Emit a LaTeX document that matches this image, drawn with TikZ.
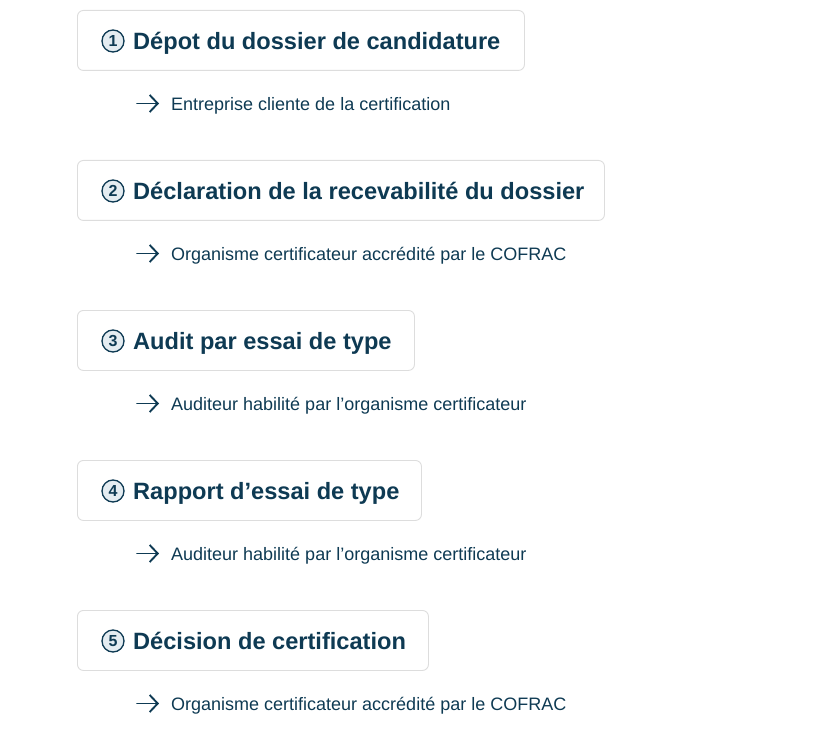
\documentclass[tikz,border=0pt]{standalone}
\usepackage{fontspec}
\setmainfont{Liberation Sans}
\usetikzlibrary{arrows.meta}
\definecolor{navy}{HTML}{0E3A53}
\definecolor{circfill}{HTML}{E4ECF1}
\definecolor{boxline}{HTML}{DDDDDD}
\tikzset{
  stepbox/.style={draw=boxline, line width=0.9pt, rounded corners=6pt, fill=white,
    anchor=north west, minimum height=60pt, inner sep=0pt},
  numcirc/.style={circle, draw=navy, line width=1.3pt, fill=circfill, minimum size=22pt,
    inner sep=0pt, text=navy, font=\fontsize{16}{16}\selectfont\bfseries},
  titletext/.style={anchor=base west, inner sep=0pt, text=navy,
    font=\fontsize{23.6}{25}\selectfont\bfseries},
  subtext/.style={anchor=base west, inner sep=0pt, text=navy,
    font=\fontsize{18}{20}\selectfont},
  actor/.style={draw=navy, line width=1.9pt, line cap=round, line join=round,
    -{Straight Barb[length=8pt,width=17pt,line width=1.9pt]}}
}
\begin{document}
\begin{tikzpicture}[x=1pt,y=-1pt]
\useasboundingbox (0,0) rectangle (838,730);
\foreach \i/\w/\title/\sub in {
  1/447/{Dépot du dossier de candidature}/{Entreprise cliente de la certification},
  2/527/{Déclaration de la recevabilité du dossier}/{Organisme certificateur accrédité par le COFRAC},
  3/337/{Audit par essai de type}/{Auditeur habilité par l’organisme certificateur},
  4/344/{Rapport d’essai de type}/{Auditeur habilité par l’organisme certificateur},
  5/351/{Décision de certification}/{Organisme certificateur accrédité par le COFRAC}}{
  \pgfmathsetmacro{\yy}{10+150*(\i-1)}
  \node[stepbox, minimum width=\w pt] (b\i) at (77,\yy) {};
  \node[numcirc] (n\i) at (113,\yy+31) {\i};
  \node[titletext] (t\i) at (133,\yy+39.5) {\title};
  \coordinate (as\i) at (137,\yy+93.5);
  \coordinate (ae\i) at (159,\yy+93.5);
  \draw[actor] (as\i) -- (ae\i);
  \node[subtext] (s\i) at (171,\yy+100.5) {\sub};
}
\end{tikzpicture}
\end{document}
